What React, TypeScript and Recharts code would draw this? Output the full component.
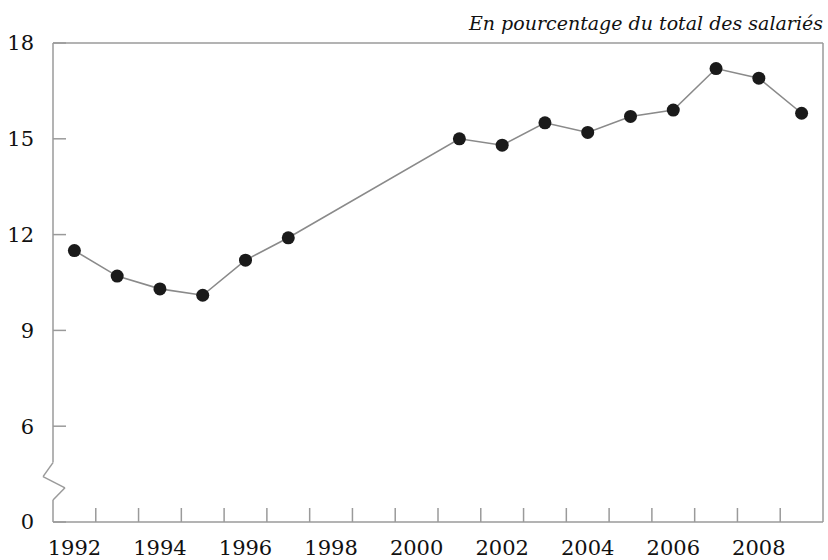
import React from "react";
import {
  LineChart,
  Line,
  XAxis,
  YAxis,
  ReferenceLine,
} from "recharts";

// years with a value (no survey 1998-2000)
const years = [1992, 1993, 1994, 1995, 1996, 1997, 2001, 2002, 2003, 2004, 2005, 2006, 2007, 2008, 2009];
const shares = [11.5, 10.7, 10.3, 10.1, 11.2, 11.9, 15.0, 14.8, 15.5, 15.2, 15.7, 15.9, 17.2, 16.9, 15.8];

const labelYears = [1992, 1994, 1996, 1998, 2000, 2002, 2004, 2006, 2008];
const markYears = [1992.5, 1993.5, 1994.5, 1995.5, 1996.5, 1997.5, 1998.5, 1999.5, 2000.5, 2001.5, 2002.5, 2003.5, 2004.5, 2005.5, 2006.5, 2007.5, 2008.5];
// axis is broken below 6: the bottom tick stands for 0
const yTicks = [3, 6, 9, 12, 15, 18];

const data = years.map((year, i) => ({ year, share: shares[i] }));

const frame = "#9a9a9a";
const font = "DejaVu Serif, Liberation Serif, serif";

export default function App() {
  return (
    <div style={{ position: "absolute", left: 0, top: 0, width: 828, height: 560, background: "#fff" }}>
      <div
        style={{
          position: "absolute",
          right: 5,
          top: 12,
          fontFamily: font,
          fontStyle: "italic",
          fontSize: 19,
          color: "#111",
          whiteSpace: "nowrap",
        }}
      >
        En pourcentage du total des salariés
      </div>
      <LineChart
        width={828}
        height={560}
        data={data}
        margin={{ top: 43, right: 5, left: 0, bottom: 0 }}
      >
        <XAxis
          dataKey="year"
          type="number"
          domain={[1991.5, 2009.5]}
          allowDataOverflow
          ticks={markYears}
          interval={0}
          height={1}
          tickSize={-14}
          tickFormatter={() => ""}
          axisLine={{ stroke: frame, strokeWidth: 1.5 }}
          tickLine={{ stroke: frame, strokeWidth: 1.5 }}
        />
        <XAxis
          xAxisId="labels"
          dataKey="year"
          type="number"
          domain={[1991.5, 2009.5]}
          allowDataOverflow
          ticks={labelYears}
          interval={0}
          height={37}
          axisLine={false}
          tickLine={false}
          tickSize={0}
          tickMargin={17}
          tick={{ fontFamily: font, fontSize: 21, fill: "#111" }}
        />
        <YAxis
          type="number"
          domain={[3, 18]}
          ticks={yTicks}
          interval={0}
          width={53}
          axisLine={false}
          tickSize={-13}
          tickMargin={32}
          tickLine={{ stroke: frame, strokeWidth: 1.5 }}
          tickFormatter={(v: number) => (v === 3 ? "0" : String(v))}
          tick={{ fontFamily: font, fontSize: 21, fill: "#111" }}
        />
        <ReferenceLine y={18} stroke={frame} strokeWidth={1.5} />
        <ReferenceLine x={2009.5} stroke={frame} strokeWidth={1.5} />
        {/* left axis with zigzag break */}
        <ReferenceLine segment={[{ x: 1991.5, y: 18 }, { x: 1991.5, y: 4.86 }]} stroke={frame} strokeWidth={1.5} ifOverflow="visible" />
        <ReferenceLine segment={[{ x: 1991.5, y: 4.86 }, { x: 1991.267, y: 4.42 }]} stroke={frame} strokeWidth={1.5} ifOverflow="visible" />
        <ReferenceLine segment={[{ x: 1991.267, y: 4.42 }, { x: 1991.78, y: 4.07 }]} stroke={frame} strokeWidth={1.5} ifOverflow="visible" />
        <ReferenceLine segment={[{ x: 1991.78, y: 4.07 }, { x: 1991.5, y: 3.69 }]} stroke={frame} strokeWidth={1.5} ifOverflow="visible" />
        <ReferenceLine segment={[{ x: 1991.5, y: 3.69 }, { x: 1991.5, y: 3 }]} stroke={frame} strokeWidth={1.5} ifOverflow="visible" />
        <Line
          dataKey="share"
          type="linear"
          stroke="#8a8a8a"
          strokeWidth={1.6}
          dot={{ r: 6.5, fill: "#1a1a1a", stroke: "#1a1a1a", strokeWidth: 0 }}
          activeDot={false}
          isAnimationActive={false}
        />
      </LineChart>
    </div>
  );
}
